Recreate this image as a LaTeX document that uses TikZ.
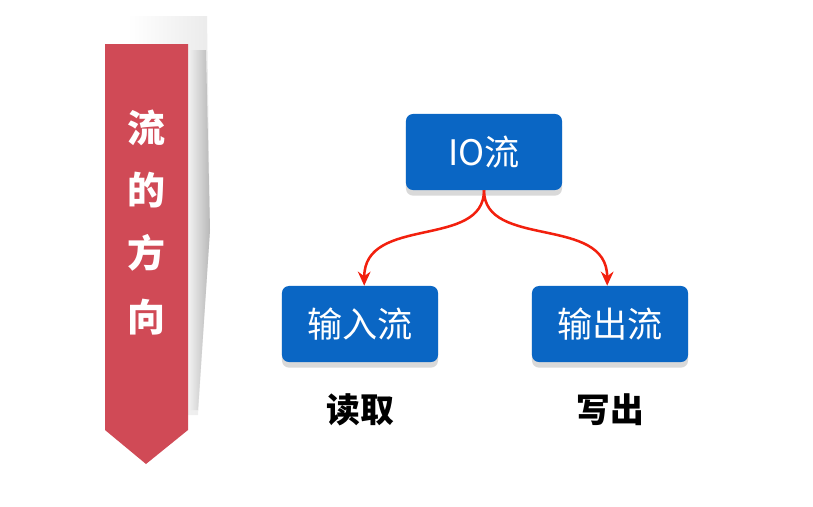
\documentclass[tikz,border=0pt]{standalone}
\usepackage{fontspec}
\newfontfamily\cjk{Noto Sans CJK SC}
\usetikzlibrary{arrows.meta, positioning, shadows}
\definecolor{bannerred}{HTML}{D04A56}
\definecolor{boxblue}{HTML}{0A66C4}
\definecolor{flowred}{HTML}{F2200E}

\begin{document}
\begin{tikzpicture}[
  x=0.025cm, y=-0.025cm,
  flowbox/.style = {rectangle, rounded corners=5pt, fill=boxblue, text=white,
                    minimum width=3.9cm, minimum height=1.9cm, inner sep=0pt,
                    font=\cjk\fontsize{25}{28}\selectfont,
                    drop shadow={shadow xshift=0pt, shadow yshift=-4pt,
                                 fill=black!15, opacity=1}},
  bannertxt/.style = {text=white, font=\cjk\bfseries\fontsize{27}{30}\selectfont},
  note/.style  = {font=\cjk\bfseries\fontsize{24}{26}\selectfont},
  flowarr/.style = {-{Stealth[length=10pt, width=9pt]}, line width=1.8pt, flowred},
]
\useasboundingbox (0,0) rectangle (813,506);

%% -- banner on the left ---------------------------------------------------
\shade[left color=white, right color=black!8]
  (128,16) -- (207,16) -- (210,230) -- (198,415) -- (150,415) -- cycle;
\shade[left color=black!5, right color=black!28]
  (188,50) -- (206,50) -- (210,230) -- (198,410) -- (188,410) -- cycle;
\fill[bannerred] (105,44) -- (188,44) -- (188,430) -- (146,464) -- (105,430) -- cycle;
\node[bannertxt] (ch1) at (146,128) {流};
\node[bannertxt] (ch2) at (146,190) {的};
\node[bannertxt] (ch3) at (146,253) {方};
\node[bannertxt] (ch4) at (146,317) {向};

%% -- boxes ----------------------------------------------------------------
\node[flowbox] (io)  at (484,152) {IO流};
\node[flowbox] (in)  at (360,324) {输入流};
\node[flowbox] (out) at (610,324) {输出流};

\node[note, below=0.65cm of in]  (read)  {读取};
\node[note, below=0.65cm of out] (write) {写出};

%% -- arrows ---------------------------------------------------------------
\draw[flowarr] (io.south) .. controls +(0,59) and +(0,-71) .. ([xshift=3pt]in.north);
\draw[flowarr] (io.south) .. controls +(0,59) and +(0,-71) .. ([xshift=-2pt]out.north);

\end{tikzpicture}
\end{document}
